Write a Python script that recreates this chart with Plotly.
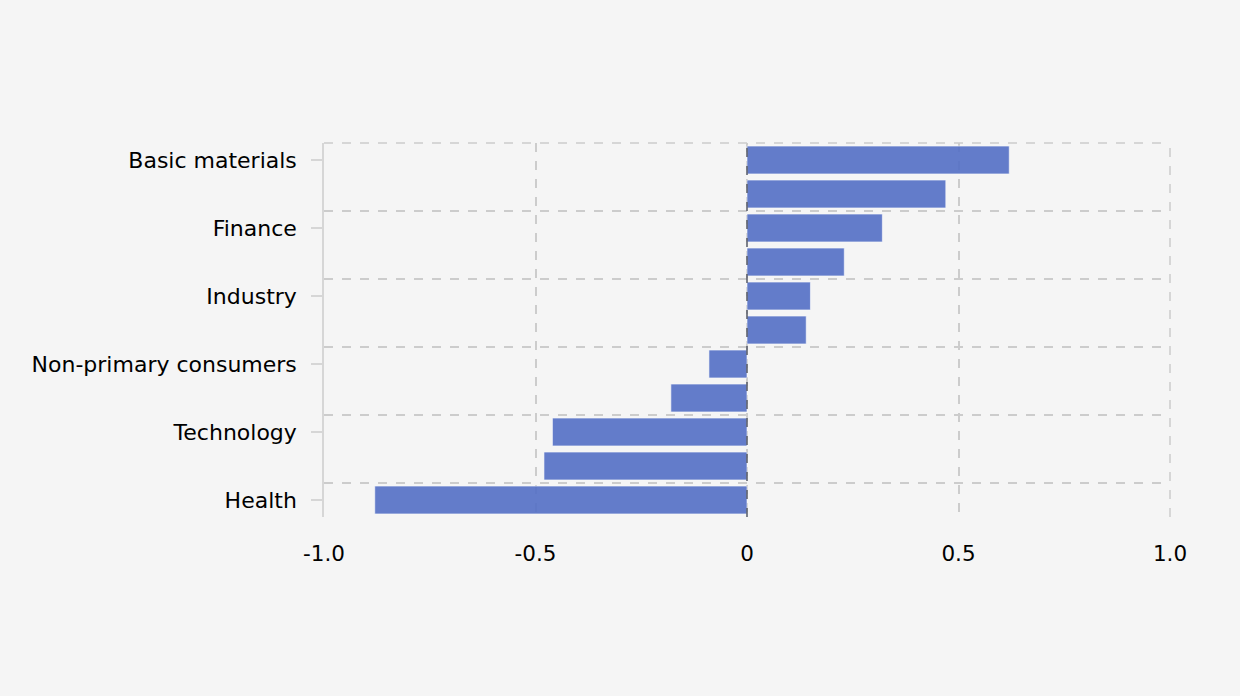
import plotly.graph_objects as go

categories = ["Basic materials", "Energy", "Finance", "Real estate", "Industry",
              "Utilities", "Non-primary consumers", "Primary consumers",
              "Technology", "Telecommunications", "Health"]
values = [0.62, 0.47, 0.32, 0.23, 0.15, 0.14, -0.09, -0.18, -0.46, -0.48, -0.88]
shown_labels = ["Basic materials", "Finance", "Industry", "Non-primary consumers",
                "Technology", "Health"]
x_tick_vals = [-1.0, -0.5, 0, 0.5, 1.0]
x_tick_text = ["-1.0", "-0.5", "0", "0.5", "1.0"]

idx = list(range(len(categories)))
label_idx = [categories.index(c) for c in shown_labels]
boundaries = [i - 0.5 for i in idx[::2]]

GRID = "#cccccc"

fig = go.Figure(go.Bar(
    x=values, y=idx, orientation="h",
    marker=dict(color="#5470c6", opacity=0.9,
                line=dict(color="rgba(255,255,255,0.6)", width=1)),
    hoverinfo="x+y",
))

fig.update_layout(
    width=1240, height=696,
    paper_bgcolor="#f5f5f5", plot_bgcolor="#f5f5f5",
    margin=dict(l=324, r=70, t=143, b=179),
    bargap=0.18,
    showlegend=False,
    font=dict(family="DejaVu Sans, Verdana, sans-serif", size=22, color="#000"),
)
fig.update_xaxes(
    range=[-1.0, 1.0], tickvals=x_tick_vals, ticktext=x_tick_text,
    showgrid=True, gridcolor=GRID, griddash="dash", gridwidth=1.5,
    zeroline=False, showline=False, ticks="", ticklabelstandoff=21,
    tickfont=dict(size=21.5),
)
fig.update_yaxes(
    range=[len(categories) - 0.5, -0.5],
    tickvals=label_idx, ticktext=shown_labels,
    showgrid=False, zeroline=False,
    showline=True, linecolor="#d6d6d6", linewidth=1.5,
    ticks="outside", ticklen=11, tickcolor="#d6d6d6", tickwidth=1.5,
    ticklabelstandoff=10, tickfont=dict(size=22),
    minor=dict(tickmode="array", tickvals=boundaries, showgrid=True,
               gridcolor=GRID, griddash="dash", gridwidth=1.5, ticks=""),
)
# edge grid lines that plotly omits at the range boundaries
fig.add_shape(type="line", xref="paper", yref="paper", x0=0, x1=1, y0=1, y1=1,
              line=dict(color=GRID, width=1.5, dash="dash"), layer="below")
fig.add_shape(type="line", xref="paper", yref="paper", x0=1, x1=1, y0=0, y1=1,
              line=dict(color=GRID, width=1.5, dash="dash"), layer="below")
# zero reference line
fig.add_shape(type="line", xref="x", yref="paper", x0=0, x1=0, y0=0, y1=1,
              line=dict(color="#555a66", width=1.5, dash="dash"), layer="above")

fig.write_html("out.html", config={"displayModeBar": False},
               post_script="document.body.style.margin='0';document.body.style.background='#f5f5f5';")
